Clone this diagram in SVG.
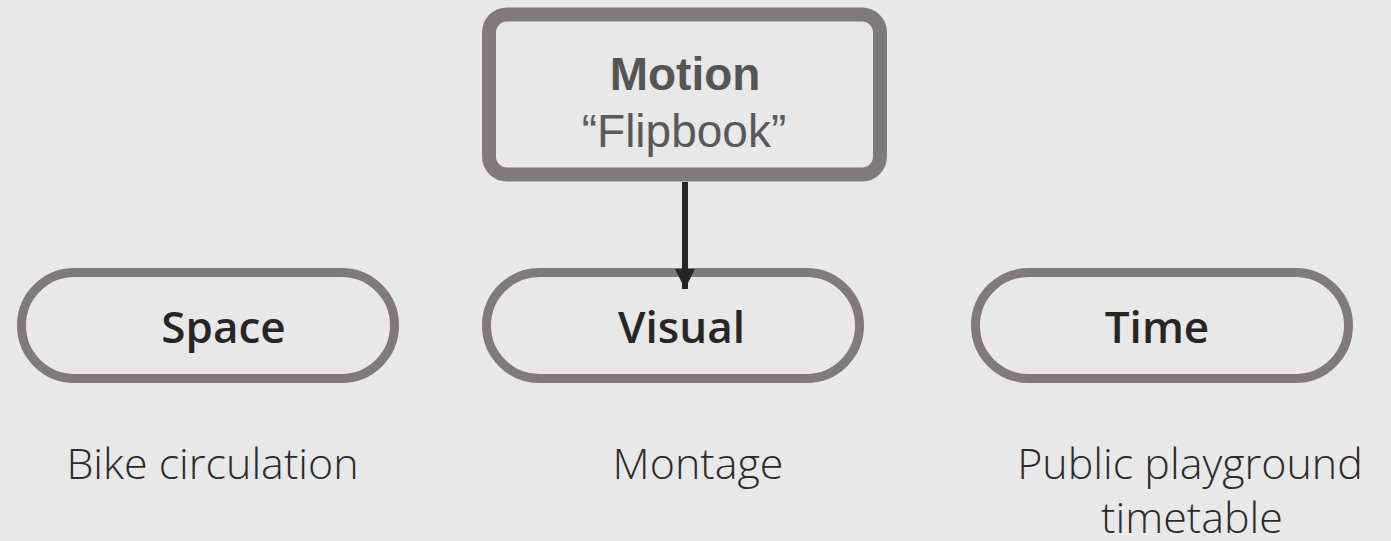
<svg xmlns="http://www.w3.org/2000/svg" width="1391" height="541" viewBox="0 0 1391 541">
<style>
.bg{fill:#e8e8e8}
.box{fill:#e8e8e8;stroke:#807b7a;stroke-width:14}
.pill{fill:#e8e8e8;stroke:#807b7a;stroke-width:9}
.t1{font-family:"Liberation Sans",Arial,sans-serif;font-size:46px;text-anchor:middle}
.lbl{font-family:"Open Sans","Noto Sans",sans-serif;font-weight:600;font-size:44px;fill:#262626;text-anchor:middle}
.sub{font-family:"Open Sans","Noto Sans",sans-serif;font-weight:300;font-size:43px;fill:#2b2b2b;text-anchor:middle}
.conn{stroke:#262626;stroke-width:6;fill:none}
</style>
<defs>
<marker id="arr" markerUnits="userSpaceOnUse" markerWidth="20" markerHeight="20" refX="20" refY="10" orient="auto" viewBox="0 0 20 20">
<path d="M0,0 L20,10 L0,20 Z" fill="#262626"/>
</marker>
</defs>
<rect class="bg" x="0" y="0" width="1391" height="541"/>
<g id="motion">
<rect class="box" x="489" y="14.5" width="391" height="160" rx="18"/>
<text class="t1" x="685" y="90" font-weight="bold" fill="#555555">Motion</text>
<text class="t1" x="684" y="147" fill="#595959">“Flipbook”</text>
</g>
<g id="space">
<rect class="pill" x="21.5" y="272.5" width="373" height="106" rx="53"/>
<text class="lbl" x="223.5" y="343">Space</text>
</g>
<g id="visual">
<rect class="pill" x="486.5" y="272.5" width="373" height="106" rx="53"/>
<text class="lbl" x="681.5" y="343">Visual</text>
</g>
<g id="time">
<rect class="pill" x="975.5" y="272.5" width="373" height="106" rx="53"/>
<text class="lbl" x="1157" y="343">Time</text>
</g>
<g id="bike">
<text class="sub" x="212.5" y="479">Bike circulation</text>
</g>
<g id="montage">
<text class="sub" x="698" y="479">Montage</text>
</g>
<g id="playground">
<text class="sub" x="1190" y="479">Public playground</text>
<text class="sub" x="1192" y="533">timetable</text>
</g>
<g id="connectors">
<line class="conn" x1="685" y1="182" x2="685" y2="289" marker-end="url(#arr)"/>
</g>
</svg>
